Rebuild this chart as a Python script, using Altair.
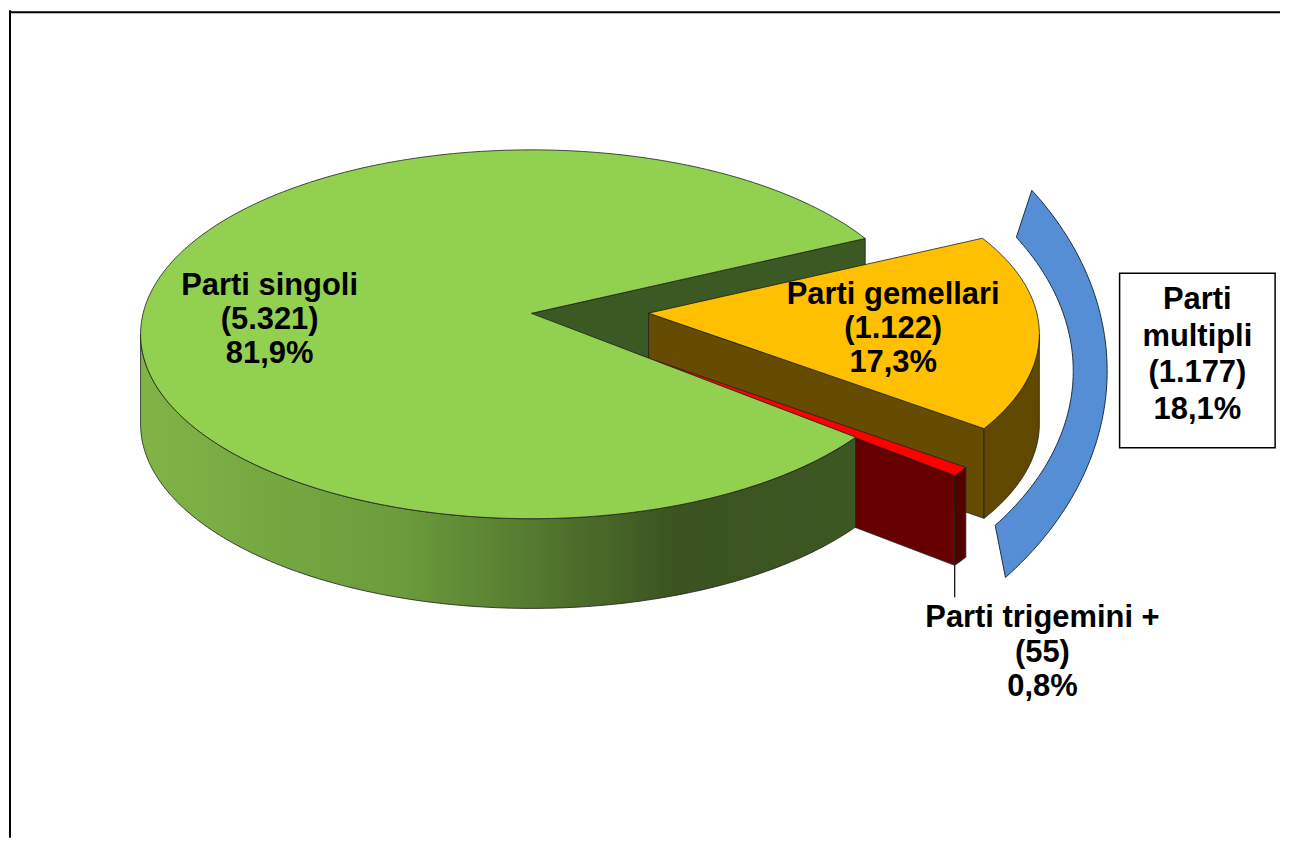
import math
import numpy as np
import pandas as pd
import altair as alt

# ---------------- data ----------------
categories = ["Parti singoli", "Parti gemellari", "Parti trigemini +"]
counts = [5321, 1122, 55]
group_name = "Parti multipli"
group_members = ["Parti gemellari", "Parti trigemini +"]

total = sum(counts)


def it_int(v):
    return f"{v:,}".replace(",", ".")


def it_pct(v):
    return f"{v / total * 100:.1f}".replace(".", ",") + "%"


# ---------------- style / layout ----------------
W, H = 1275, 830
OX, OY = 8, 8                     # page offset of the view
CX, CY = 532, 333                 # pie centre (page px)
A, B = 392, 185                   # ellipse semi-axes of the pie top
DEPTH = 90                        # thickness of the 3D pie
APEX_DY = -21                     # perspective shift of the apex
START_DEG = 123.9                 # where the first slice starts
EXPLODE = {"Parti singoli": (0.0, 0.0), "Parti gemellari": (0.30, 0.30),
           "Parti trigemini +": (0.30, 0.39)}
COLORS = {
    "Parti singoli": dict(top="#92d050", cut="#3b5a23"),
    "Parti gemellari": dict(top="#ffc000", cut="#664c00", wall="#604800"),
    "Parti trigemini +": dict(top="#ff0000", cut="#660000", wall="#520000"),
}
EDGE = "#1e1e1e"
FONT = "Liberation Sans"

# ---------------- geometry built from the data ----------------
deg_per = 360.0 / total
slices = {}
s = START_DEG
for cat, v in zip(categories, counts):
    p0, p1 = s, s + v * deg_per
    mid = (p0 + p1) / 2
    ex, ey = EXPLODE[cat]
    cx = CX + ex * A * math.sin(math.radians(mid))
    cy = CY - ey * B * math.cos(math.radians(mid))
    slices[cat] = dict(p0=p0, p1=p1, mid=mid, cx=cx, cy=cy, v=v)
    s = p1


def P(cx, cy, phi, dy=0.0, a=A, b=B):
    r = math.radians(phi)
    return (cx + a * math.sin(r), cy - b * math.cos(r) + dy)


def arc(cx, cy, p0, p1, dy=0.0, a=A, b=B):
    n = max(2, int(abs(p1 - p0) / 1.0) + 1)
    return [P(cx, cy, ph, dy, a, b) for ph in np.linspace(p0, p1, n)]


rows = []


def add_poly(name, pts):
    pts = list(pts) + [pts[0]]
    for i, (x, y) in enumerate(pts):
        rows.append(dict(poly=name, i=i, x=x, y=y))


def front_range(p0, p1):
    for k in range(-1, 3):
        lo, hi = 90 + 360 * k, 270 + 360 * k
        a0, a1 = max(p0, lo), min(p1, hi)
        if a1 > a0:
            return a0, a1
    return None


for cat, sl in slices.items():
    cx, cy = sl["cx"], sl["cy"]
    apex = (cx, cy + APEX_DY)
    apex_d = (cx, cy + APEX_DY + DEPTH)
    add_poly(cat + "|top", [apex] + arc(cx, cy, sl["p0"], sl["p1"]))
    pe = P(cx, cy, sl["p1"])
    pe_d = P(cx, cy, sl["p1"], DEPTH)
    add_poly(cat + "|cut", [apex, pe, pe_d, apex_d])
    fr = front_range(sl["p0"], sl["p1"])
    if fr:
        add_poly(cat + "|wall", arc(cx, cy, fr[0], fr[1]) + arc(cx, cy, fr[1], fr[0], DEPTH))

# bracket around the multiple births
g0 = slices[group_members[0]]["p0"]
g1 = slices[group_members[-1]]["p1"]
bcx = slices[group_members[0]]["cx"]
bcy = slices[group_members[0]]["cy"] + 37
outer = arc(bcx, bcy, g0 - 2.0, g1 + 5.0, 0, 460, 330)
inner = arc(bcx, bcy, g1 + 1.4, g0 + 1.3, 0, 426, 268)
add_poly("bracket", outer + inner)

# leader line for the tiny slice
tri = slices["Parti trigemini +"]
lx, ly = P(tri["cx"], tri["cy"], tri["p1"], DEPTH)
LEAD = 32
rows.append(dict(poly="leader", i=0, x=lx, y=ly))
rows.append(dict(poly="leader", i=1, x=lx, y=ly + LEAD))

geom = pd.DataFrame(rows)

# labels
sg = slices["Parti singoli"]
gm = slices["Parti gemellari"]
lab_rows = []
x, y = P(sg["cx"], sg["cy"], sg["mid"], 0, A * 0.67, B * 0.67)
lab_rows.append(dict(x=x, y=y - 37, text=f"Parti singoli\n({it_int(sg['v'])})\n{it_pct(sg['v'])}"))
x, y = P(gm["cx"], gm["cy"], gm["mid"], 0, A * 0.626, B * 0.626)
lab_rows.append(dict(x=x, y=y - 30, text=f"Parti gemellari\n({it_int(gm['v'])})\n{it_pct(gm['v'])}"))
lab_rows.append(dict(x=lx + 88, y=ly + LEAD + 30,
                     text=f"Parti trigemini +\n({it_int(tri['v'])})\n{it_pct(tri['v'])}"))
labels = pd.DataFrame(lab_rows)

gsum = sum(slices[c]["v"] for c in group_members)
box_left = bcx + 460 + 12.5
box = pd.DataFrame([dict(x=box_left, x2=box_left + 156, y=bcy - 98, y2=bcy + 77)])
box_text = pd.DataFrame([dict(x=box_left + 78, y=bcy - 98 + 36,
                              text=f"Parti\nmultipli\n({it_int(gsum)})\n{it_pct(gsum)}")])

# ---------------- chart ----------------
xs = alt.Scale(domain=[OX, OX + W], nice=False, zero=False)
ys = alt.Scale(domain=[OY, OY + H], nice=False, zero=False, reverse=True)
X = alt.X("x:Q", scale=xs, axis=None)
Y = alt.Y("y:Q", scale=ys, axis=None)


def poly_layer(name, fill, stroke=EDGE, sw=0.8):
    return alt.Chart(geom).transform_filter(alt.datum.poly == name).mark_line(
        fill=fill, stroke=stroke, strokeWidth=sw, strokeJoin="round"
    ).encode(x=X, y=Y, order=alt.Order("i:Q"))


green_side = alt.Gradient(
    gradient="linear", x1=0, x2=1, y1=0, y2=0,
    stops=[
        alt.GradientStop(color="#80b446", offset=0),
        alt.GradientStop(color="#6b9b3c", offset=0.37),
        alt.GradientStop(color="#3a5320", offset=0.75),
        alt.GradientStop(color="#3d5723", offset=1),
    ],
)

layers = [
    poly_layer("Parti singoli|cut", COLORS["Parti singoli"]["cut"]),
    poly_layer("Parti gemellari|cut", COLORS["Parti gemellari"]["cut"]),
    poly_layer("Parti gemellari|wall", COLORS["Parti gemellari"]["wall"]),
    poly_layer("Parti gemellari|top", COLORS["Parti gemellari"]["top"]),
    poly_layer("Parti trigemini +|cut", COLORS["Parti trigemini +"]["cut"]),
    poly_layer("Parti trigemini +|wall", COLORS["Parti trigemini +"]["wall"]),
    poly_layer("Parti trigemini +|top", COLORS["Parti trigemini +"]["top"]),
    poly_layer("Parti singoli|wall", green_side),
    poly_layer("Parti singoli|top", COLORS["Parti singoli"]["top"]),
    poly_layer("bracket", "#558ed5", stroke="#1f2d44", sw=1.0),
    alt.Chart(geom).transform_filter(alt.datum.poly == "leader").mark_line(
        color="black", strokeWidth=1.2
    ).encode(x=X, y=Y, order=alt.Order("i:Q")),
    alt.Chart(labels).mark_text(
        font=FONT, fontSize=31, fontWeight="bold", align="center",
        baseline="alphabetic", lineBreak="\n", lineHeight=34.5, color="black"
    ).encode(x=X, y=Y, text="text:N"),
    alt.Chart(box).mark_rect(fill="white", stroke="black", strokeWidth=1.5).encode(
        x=X, x2="x2:Q", y=Y, y2="y2:Q"
    ),
    alt.Chart(box_text).mark_text(
        font=FONT, fontSize=31, fontWeight="bold", align="center",
        baseline="alphabetic", lineBreak="\n", lineHeight=36.7, color="black"
    ).encode(x=X, y=Y, text="text:N"),
    # frame (top and left edges)
    alt.Chart(alt.Data(values=[{}])).mark_rule(color="black", strokeWidth=2).encode(
        x=alt.value(0), x2=alt.value(W), y=alt.value(2)
    ),
    alt.Chart(alt.Data(values=[{}])).mark_rule(color="black", strokeWidth=2).encode(
        x=alt.value(1), y=alt.value(0), y2=alt.value(H)
    ),
]

chart = alt.layer(*layers).properties(
    width=W, height=H, padding=0, background="white"
).configure_view(stroke=None)

chart.save("out.html", embed_options={"renderer": "svg", "actions": False})
